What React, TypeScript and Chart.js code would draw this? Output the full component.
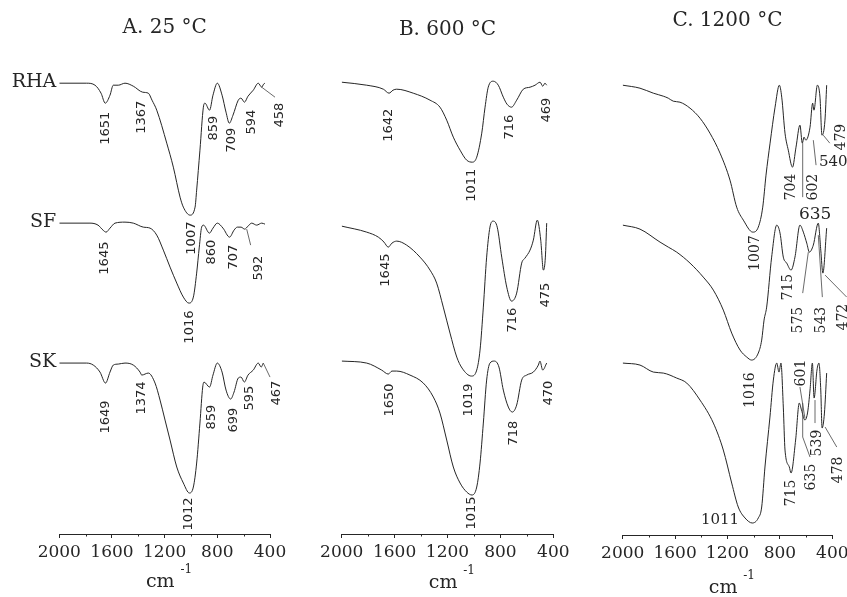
import React, { useEffect, useRef } from 'react';
import { Chart, registerables } from 'chart.js';

Chart.register(...registerables);
Chart.defaults.font.family = 'DejaVu Serif';

type PeakLabel = [string, number, number, 'v' | 'h', number?];
type Leader = [number, number, number, number];

// ---------- shared text ----------
const SAMPLE_NAMES = ['RHA', 'SF', 'SK'];
const PANEL_TITLES = ['A. 25 °C', 'B. 600 °C', 'C. 1200 °C'];
const MAJOR_TICKS = [2000, 1600, 1200, 800, 400];
const MINOR_TICKS = [1800, 1400, 1000, 600];
const UNIT_TEXT = 'cm';
const UNIT_SUP = '-1';

// ---------- Panel A (25 °C): wavenumber (cm-1) / transmittance (a.u., stacked) ----------
const A_RHA_WN = [2000, 1792, 1729, 1683, 1651, 1615, 1590, 1552, 1501, 1438, 1367, 1324, 1296, 1260, 1184, 1134, 1083, 1058, 1007, 969, 957, 932, 906, 894, 859, 833, 800, 764, 734, 709, 681, 641, 620, 594, 567, 527, 489, 463, 449, 438];
const A_RHA_T = [451, 451, 449, 441, 431, 439, 449, 449, 451, 448, 442, 441, 434, 424, 391, 367, 337, 327, 319, 327, 344, 384, 427, 431, 424, 439, 451, 439, 422, 411, 419, 434, 436, 432, 438, 444, 451, 447, 450, 451];
const A_SF_WN = [2000, 1767, 1706, 1668, 1645, 1615, 1577, 1501, 1438, 1362, 1311, 1260, 1210, 1159, 1108, 1058, 1016, 982, 957, 937, 919, 905, 860, 833, 800, 757, 707, 673, 648, 620, 592, 567, 539, 501, 463, 438];
const A_SF_T = [311, 311, 309, 304, 302, 306, 311, 312, 311, 307, 306, 299, 284, 267, 251, 237, 231, 237, 261, 287, 307, 309, 301, 306, 311, 306, 297, 304, 307, 307, 305, 308, 311, 309, 311, 310];
const A_SK_WN = [2000, 1792, 1742, 1691, 1649, 1615, 1590, 1552, 1501, 1438, 1387, 1374, 1324, 1273, 1235, 1197, 1159, 1108, 1058, 1012, 982, 957, 932, 911, 901, 859, 833, 800, 764, 734, 699, 673, 641, 620, 595, 567, 527, 489, 467, 451];
const A_SK_T = [171, 171, 169, 162, 151, 162, 169, 170, 171, 169, 162, 159, 161, 151, 134, 114, 94, 67, 51, 41, 47, 71, 111, 147, 152, 147, 159, 171, 162, 144, 135, 142, 156, 157, 152, 159, 164, 171, 167, 171];
const A_PEAKS: PeakLabel[] = [
  ['1651', 1648, 406, 'v'], ['1367', 1374, 417, 'v'], ['859', 831, 406, 'v'], ['709', 691, 394, 'v'],
  ['594', 539, 412, 'v'], ['458', 324, 419, 'v'], ['1007', 995, 296, 'v'],
  ['1645', 1653, 276, 'v'], ['860', 843, 282, 'v'], ['707', 679, 277, 'v'], ['592', 489, 266, 'v'], ['1016', 1007, 207, 'v'],
  ['1649', 1645, 117, 'v'], ['1374', 1374, 136, 'v'], ['859', 843, 117, 'v'], ['699', 679, 114, 'v'],
  ['595', 552, 136, 'v'], ['467', 349, 141, 'v'], ['1012', 1020, 20, 'v'],
];
const A_LEADERS: Leader[] = [[463, 447, 362, 437], [577, 305, 547, 289], [451, 171, 400, 157]];

// ---------- Panel B (600 °C) ----------
const B_RHA_WN = [2000, 1811, 1685, 1642, 1612, 1584, 1459, 1332, 1257, 1206, 1156, 1105, 1055, 1011, 979, 941, 916, 892, 854, 816, 778, 750, 716, 677, 627, 576, 538, 500, 480, 463, 450];
const B_RHA_T = [452, 449, 445, 441, 444, 445, 441, 434, 427, 414, 397, 384, 374, 372, 377, 401, 427, 447, 453, 449, 437, 430, 427, 434, 445, 447, 449, 452, 448, 451, 449];
const B_SF_WN = [2000, 1811, 1723, 1680, 1648, 1620, 1584, 1509, 1408, 1332, 1282, 1232, 1181, 1130, 1090, 1019, 979, 954, 929, 904, 879, 854, 824, 790, 752, 716, 677, 639, 614, 576, 551, 521, 495, 475, 460, 450];
const B_SF_T = [308, 302, 297, 292, 287, 291, 293, 289, 277, 264, 251, 227, 201, 177, 166, 158, 164, 184, 227, 277, 307, 313, 307, 277, 247, 233, 241, 271, 276, 284, 294, 314, 294, 264, 277, 311];
const B_SK_WN = [2000, 1811, 1698, 1648, 1620, 1584, 1484, 1383, 1307, 1257, 1206, 1156, 1105, 1055, 1015, 979, 954, 929, 904, 879, 846, 811, 778, 740, 710, 677, 639, 601, 551, 513, 501, 480, 450];
const B_SK_T = [173, 171, 164, 160, 163, 163, 159, 151, 137, 121, 94, 67, 51, 42, 39, 47, 71, 111, 154, 171, 173, 167, 144, 127, 122, 129, 154, 159, 162, 169, 173, 164, 171];
const B_PEAKS: PeakLabel[] = [
  ['1642', 1648, 409, 'v'], ['1011', 1017, 349, 'v'], ['716', 727, 407, 'v'], ['469', 450, 424, 'v'],
  ['1645', 1665, 264, 'v'], ['716', 707, 214, 'v'], ['475', 455, 239, 'v'],
  ['1650', 1635, 134, 'v'], ['1019', 1043, 134, 'v'], ['718', 703, 101, 'v'], ['470', 438, 141, 'v'], ['1015', 1017, 21, 'v'],
];
const B_LEADERS: Leader[] = [];

// ---------- Panel C (1200 °C) ----------
const C_RHA_WN = [2000, 1868, 1766, 1690, 1652, 1614, 1563, 1486, 1410, 1334, 1257, 1181, 1130, 1079, 1007, 965, 931, 906, 875, 837, 804, 786, 761, 736, 704, 677, 647, 629, 616, 602, 570, 550, 540, 514, 494, 479, 456, 443];
const C_RHA_T = [450, 447, 442, 439, 437, 434, 433, 427, 417, 402, 382, 355, 328, 315, 303, 308, 328, 360, 392, 428, 450, 438, 402, 385, 368, 388, 410, 392, 398, 395, 408, 432, 425, 450, 438, 400, 415, 450];
const C_SF_WN = [2000, 1868, 1715, 1652, 1588, 1486, 1385, 1308, 1232, 1168, 1104, 1053, 1016, 965, 939, 921, 901, 863, 824, 799, 774, 748, 715, 685, 647, 621, 595, 575, 545, 507, 488, 472, 443];
const C_SF_T = [310, 306, 293, 288, 283, 272, 258, 245, 225, 202, 185, 178, 175, 182, 195, 215, 228, 278, 310, 302, 278, 272, 265, 278, 310, 303, 292, 283, 290, 312, 285, 262, 307];
const C_SK_WN = [2000, 1868, 1766, 1690, 1588, 1511, 1410, 1308, 1232, 1168, 1118, 1066, 1011, 965, 939, 914, 876, 850, 824, 807, 792, 774, 761, 728, 715, 680, 652, 635, 609, 588, 570, 552, 539, 517, 502, 488, 478, 460, 443];
const C_SK_T = [172, 170, 163, 162, 157, 152, 135, 112, 85, 52, 28, 17, 12, 17, 28, 68, 118, 155, 172, 163, 172, 128, 85, 68, 62, 95, 132, 125, 115, 123, 145, 172, 137, 165, 172, 145, 107, 122, 162];
const C_PEAKS: PeakLabel[] = [
  ['704', 709, 348, 'v'], ['602', 545, 348, 'v'], ['540', 392, 373, 'h', 15], ['479', 330, 398, 'v'],
  ['635', 531, 321, 'h', 17], ['1007', 990, 282, 'v'], ['715', 736, 248, 'v'], ['575', 660, 215, 'v'],
  ['543', 481, 215, 'v'], ['472', 316, 218, 'v'],
  ['601', 634, 162, 'v'], ['1016', 1028, 145, 'v'], ['715', 710, 42, 'v'], ['635', 557, 58, 'v'],
  ['539', 514, 92, 'v'], ['478', 354, 65, 'v'], ['1011', 1257, 15, 'h', 15],
];
const C_LEADERS: Leader[] = [
  [626, 392, 626, 338], [545, 395, 524, 370], [469, 400, 419, 392],
  [583, 283, 626, 242], [507, 300, 476, 238], [455, 260, 290, 238],
  [647, 148, 609, 117], [626, 132, 626, 98], [626, 98, 570, 78], [532, 135, 532, 112], [455, 108, 366, 88],
];

const INK = '#262626';

const decorPlugin = {
  id: 'ftirDecor',
  afterDraw(chart: any, _args: any, opts: any) {
    const { ctx, chartArea } = chart;
    const x = chart.scales.x;
    const y = chart.scales.y;
    ctx.save();
    // minor ticks
    ctx.strokeStyle = INK;
    ctx.lineWidth = 1;
    for (const m of MINOR_TICKS) {
      const px = Math.round(x.getPixelForValue(m)) + 0.5;
      ctx.beginPath();
      ctx.moveTo(px, chartArea.bottom);
      ctx.lineTo(px, chartArea.bottom + 2.5);
      ctx.stroke();
    }
    // leader lines
    ctx.lineWidth = 0.8;
    ctx.strokeStyle = '#444';
    for (const [w1, t1, w2, t2] of opts.leaders as Leader[]) {
      ctx.beginPath();
      ctx.moveTo(x.getPixelForValue(w1), y.getPixelForValue(t1));
      ctx.lineTo(x.getPixelForValue(w2), y.getPixelForValue(t2));
      ctx.stroke();
    }
    // peak labels
    ctx.fillStyle = INK;
    ctx.textAlign = 'center';
    ctx.textBaseline = 'middle';
    for (const [text, wn, t, mode, size] of opts.peaks as PeakLabel[]) {
      ctx.save();
      ctx.font = `${size || opts.labelSize}px ${opts.labelFamily}`;
      ctx.translate(x.getPixelForValue(wn), y.getPixelForValue(t));
      if (mode === 'v') ctx.rotate(-Math.PI / 2);
      ctx.fillText(text, 0, 0);
      ctx.restore();
    }
    // sample names
    if (opts.showNames) {
      ctx.font = '19px "DejaVu Serif"';
      ctx.textAlign = 'right';
      SAMPLE_NAMES.forEach((name, i) => {
        const pt = chart.getDatasetMeta(i).data[0];
        ctx.fillText(name, chartArea.left - 3, pt.y - 1);
      });
    }
    // unit label cm^-1
    const cx = (chartArea.left + chartArea.right) / 2 - 4.4;
    const cy = chartArea.bottom + opts.unitDy;
    ctx.textAlign = 'center';
    ctx.font = '19px "DejaVu Serif"';
    ctx.fillText(UNIT_TEXT, cx, cy);
    ctx.font = '12px "DejaVu Serif"';
    ctx.fillText(UNIT_SUP, cx + 26, cy - 12);
    ctx.restore();
  },
};

type PanelSpec = {
  title: string;
  series: [number[], number[]][];
  peaks: PeakLabel[];
  leaders: Leader[];
  left: number;
  width: number;
  padL: number;
  padR: number;
  padB: number;
  titleTop: number;
  titleBottom: number;
  yMax: number;
  unitDy: number;
  labelFamily: string;
  labelSize: number;
  showNames: boolean;
};

const PANELS: PanelSpec[] = [
  {
    title: PANEL_TITLES[0], series: [[A_RHA_WN, A_RHA_T], [A_SF_WN, A_SF_T], [A_SK_WN, A_SK_T]],
    peaks: A_PEAKS, leaders: A_LEADERS, left: 0, width: 300, padL: 59.3, padR: 30, padB: 30.6,
    titleTop: 16, titleBottom: 20.2, yMax: 474, unitDy: 48, labelFamily: '"DejaVu Sans"', labelSize: 13, showNames: true,
  },
  {
    title: PANEL_TITLES[1], series: [[B_RHA_WN, B_RHA_T], [B_SF_WN, B_SF_T], [B_SK_WN, B_SK_T]],
    peaks: B_PEAKS, leaders: B_LEADERS, left: 300, width: 280, padL: 41.7, padR: 26.7, padB: 30.6,
    titleTop: 18, titleBottom: 18.2, yMax: 474, unitDy: 49, labelFamily: '"DejaVu Sans"', labelSize: 13, showNames: false,
  },
  {
    title: PANEL_TITLES[2], series: [[C_RHA_WN, C_RHA_T], [C_SF_WN, C_SF_T], [C_SK_WN, C_SK_T]],
    peaks: C_PEAKS, leaders: C_LEADERS, left: 580, width: 290, padL: 42.7, padR: 37.7, padB: 29.6,
    titleTop: 9, titleBottom: 27.2, yMax: 475, unitDy: 53, labelFamily: '"DejaVu Serif"', labelSize: 14, showNames: false,
  },
];

function Panel({ spec }: { spec: PanelSpec }) {
  const ref = useRef<HTMLCanvasElement | null>(null);
  useEffect(() => {
    if (!ref.current) return;
    const chart = new Chart(ref.current, {
      type: 'line',
      data: {
        datasets: spec.series.map(([wn, t], i) => ({
          label: SAMPLE_NAMES[i],
          data: wn.map((w, k) => ({ x: w, y: t[k] })),
          borderColor: INK,
          borderWidth: 1,
          pointRadius: 0,
          fill: false,
          cubicInterpolationMode: 'monotone' as const,
        })),
      },
      options: {
        animation: false,
        responsive: false,
        devicePixelRatio: 1,
        events: [],
        layout: { padding: { left: spec.padL, right: spec.padR, top: 0, bottom: spec.padB } },
        plugins: {
          legend: { display: false },
          tooltip: { enabled: false },
          title: {
            display: true,
            text: spec.title,
            color: INK,
            font: { family: 'DejaVu Serif', size: 20, weight: 'normal' },
            padding: { top: spec.titleTop, bottom: spec.titleBottom },
          },
          ftirDecor: {
            peaks: spec.peaks,
            leaders: spec.leaders,
            labelFamily: spec.labelFamily,
            labelSize: spec.labelSize,
            showNames: spec.showNames,
            unitDy: spec.unitDy,
          },
        } as any,
        scales: {
          x: {
            type: 'linear',
            min: 400,
            max: 2000,
            reverse: true,
            afterBuildTicks: (axis: any) => {
              axis.ticks = MAJOR_TICKS.map((v) => ({ value: v }));
            },
            ticks: {
              color: INK,
              font: { family: 'DejaVu Serif', size: 17 },
              padding: 4,
              maxRotation: 0,
              autoSkip: false,
              callback: (v: any) => String(v),
            },
            grid: { drawOnChartArea: false, drawTicks: true, tickLength: 4, color: INK },
            border: { display: true, color: INK, width: 1 },
          },
          y: { display: false, min: 0, max: spec.yMax },
        },
      },
      plugins: [decorPlugin],
    });
    return () => chart.destroy();
  }, [spec]);
  return (
    <canvas
      ref={ref}
      width={spec.width}
      height={597}
      style={{ position: 'absolute', left: spec.left, top: 0, width: spec.width, height: 597 }}
    />
  );
}

export default function App() {
  return (
    <div
      style={{
        position: 'absolute',
        left: 0,
        top: 0,
        width: 847,
        height: 597,
        overflow: 'hidden',
        background: '#ffffff',
      }}
    >
      {PANELS.map((p) => (
        <Panel key={p.title} spec={p} />
      ))}
    </div>
  );
}
